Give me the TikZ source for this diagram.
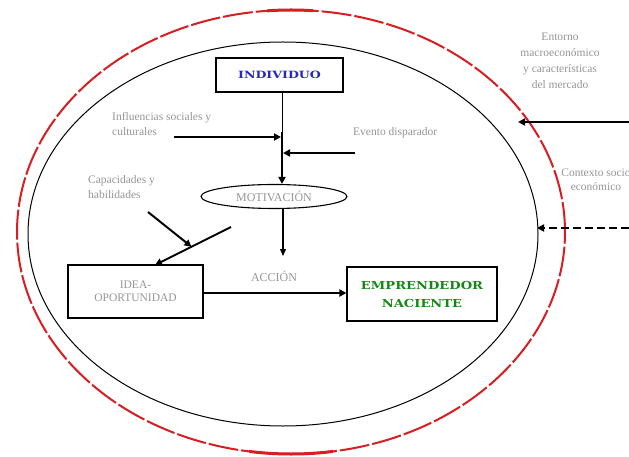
\documentclass[tikz,border=0pt]{standalone}
\usepackage{fontspec}
\setmainfont{Liberation Serif}
\newfontfamily\widefont{DejaVu Serif}
\usetikzlibrary{arrows.meta,shapes.geometric,calc}
\definecolor{ringred}{RGB}{215,30,35}
\definecolor{txtgray}{RGB}{150,150,150}
\definecolor{indblue}{RGB}{40,40,190}
\definecolor{empgreen}{RGB}{20,135,20}
\tikzset{
  graytext/.style={text=txtgray, font=\fontsize{11.5}{15}\selectfont, inner sep=0pt},
  boxnode/.style={draw, line width=1.1pt, inner sep=0pt},
  thickarrow/.style={line width=2.4pt, -{Triangle[length=7pt,width=7pt]}},
  thinarrow/.style={line width=1.1pt, -{Triangle[length=7pt,width=6pt]}},
}
\begin{document}
\begin{tikzpicture}[x=1pt,y=-1pt]
\useasboundingbox (0,0) rectangle (629,457);
\fill[white] (0,0) rectangle (629,457);

% outer red dashed ellipse
\draw[ringred, line width=2pt, dash pattern=on 30pt off 3pt] (291,232) ellipse [x radius=274pt, y radius=222pt];
\begin{scope}
  \clip (267,0) rectangle (313,30);
  \draw[ringred, line width=3pt] (291,232) ellipse [x radius=274pt, y radius=222pt];
\end{scope}
\begin{scope}
  \clip (249,430) rectangle (333,460);
  \draw[ringred, line width=3pt] (291,232) ellipse [x radius=274pt, y radius=222pt];
\end{scope}

% inner black ellipse
\draw[black, line width=1pt] (283,234) ellipse [x radius=255pt, y radius=192pt];

% boxes
\node[boxnode, minimum width=127pt, minimum height=34pt, text=indblue,
      font=\widefont\bfseries\fontsize{10}{12}\selectfont] (ind) at (279.5,75)
  {\scalebox{1.26}[1]{INDIVIDUO}};
\node[boxnode, minimum width=135pt, minimum height=53pt, align=center, text=txtgray,
      font=\fontsize{11.5}{13}\selectfont] (idea) at (135.5,291.5) {IDEA-\\OPORTUNIDAD};
\node[boxnode, minimum width=150pt, minimum height=54pt, align=center, text=empgreen,
      font=\widefont\bfseries\fontsize{11}{18}\selectfont] (emp) at (422,294)
  {\scalebox{1.19}[1]{EMPRENDEDOR}\\\scalebox{1.19}[1]{NACIENTE}};
\node[draw, ellipse, line width=1.1pt, minimum width=146pt, minimum height=24pt, inner sep=0pt,
      text=txtgray, font=\fontsize{12}{13}\selectfont] (mot) at (274,196.5) {MOTIVACIÓN};

% text labels
\node[graytext, align=left, anchor=west] (inf) at (112,124.5) {Influencias sociales y\\culturales};
\node[graytext, anchor=west] (ev) at (353,133) {Evento disparador};
\node[graytext, align=left, anchor=west] (cap) at (88,187) {Capacidades y\\habilidades};
\node[graytext, font=\fontsize{12}{14}\selectfont] (acc) at (274,276) {ACCIÓN};
\node[graytext, align=center, font=\fontsize{11.5}{16}\selectfont] (ent) at (560,61)
  {Entorno\\macroeconómico\\y características\\del mercado};
\node[graytext, align=center, font=\fontsize{11.5}{14}\selectfont] (ctx) at (596,180)
  {Contexto socio\\económico};

% coordinates
\coordinate (v) at (282,0);
\coordinate (j0) at (282,132);
\coordinate (j1) at (281,137);
\coordinate (j2) at (283,153);
\coordinate (infs) at (174,137);
\coordinate (evs) at (355,153);
\coordinate (accend) at (283,256);
\coordinate (d1) at (231,227);
\coordinate (d2) at (155,265);
\coordinate (caps) at (148,212);
\coordinate (h) at (0,293);
\coordinate (r1) at (629,122);
\coordinate (r1e) at (518,122);
\coordinate (r2) at (629,228);
\coordinate (r2e) at (537,228);

% vertical line from INDIVIDUO to MOTIVACION
\draw[line width=1pt] (ind.south -| v) -- (j0);
\draw[thickarrow] (j0) -- (j0 |- mot.north);
% side arrows
\draw[thickarrow] (infs) -- (j1);
\draw[thickarrow] (evs) -- (j2);
% motivacion to accion
\draw[thinarrow] (mot.south -| accend) -- (accend);
% diagonal to IDEA
\draw[line width=2pt, -{Triangle[length=7pt,width=7pt]}] (d1) -- (d2);
\draw[line width=2pt, -{Triangle[length=7pt,width=7pt]}] (caps) -- ($(d1)!0.52!(d2)$);
% IDEA to EMPRENDEDOR
\draw[thickarrow] (idea.east |- h) -- (emp.west |- h);
% outside arrows
\draw[thickarrow] (r1) -- (r1e);
\draw[thickarrow, dash pattern=on 8pt off 4pt] (r2) -- (r2e);
\end{tikzpicture}
\end{document}
